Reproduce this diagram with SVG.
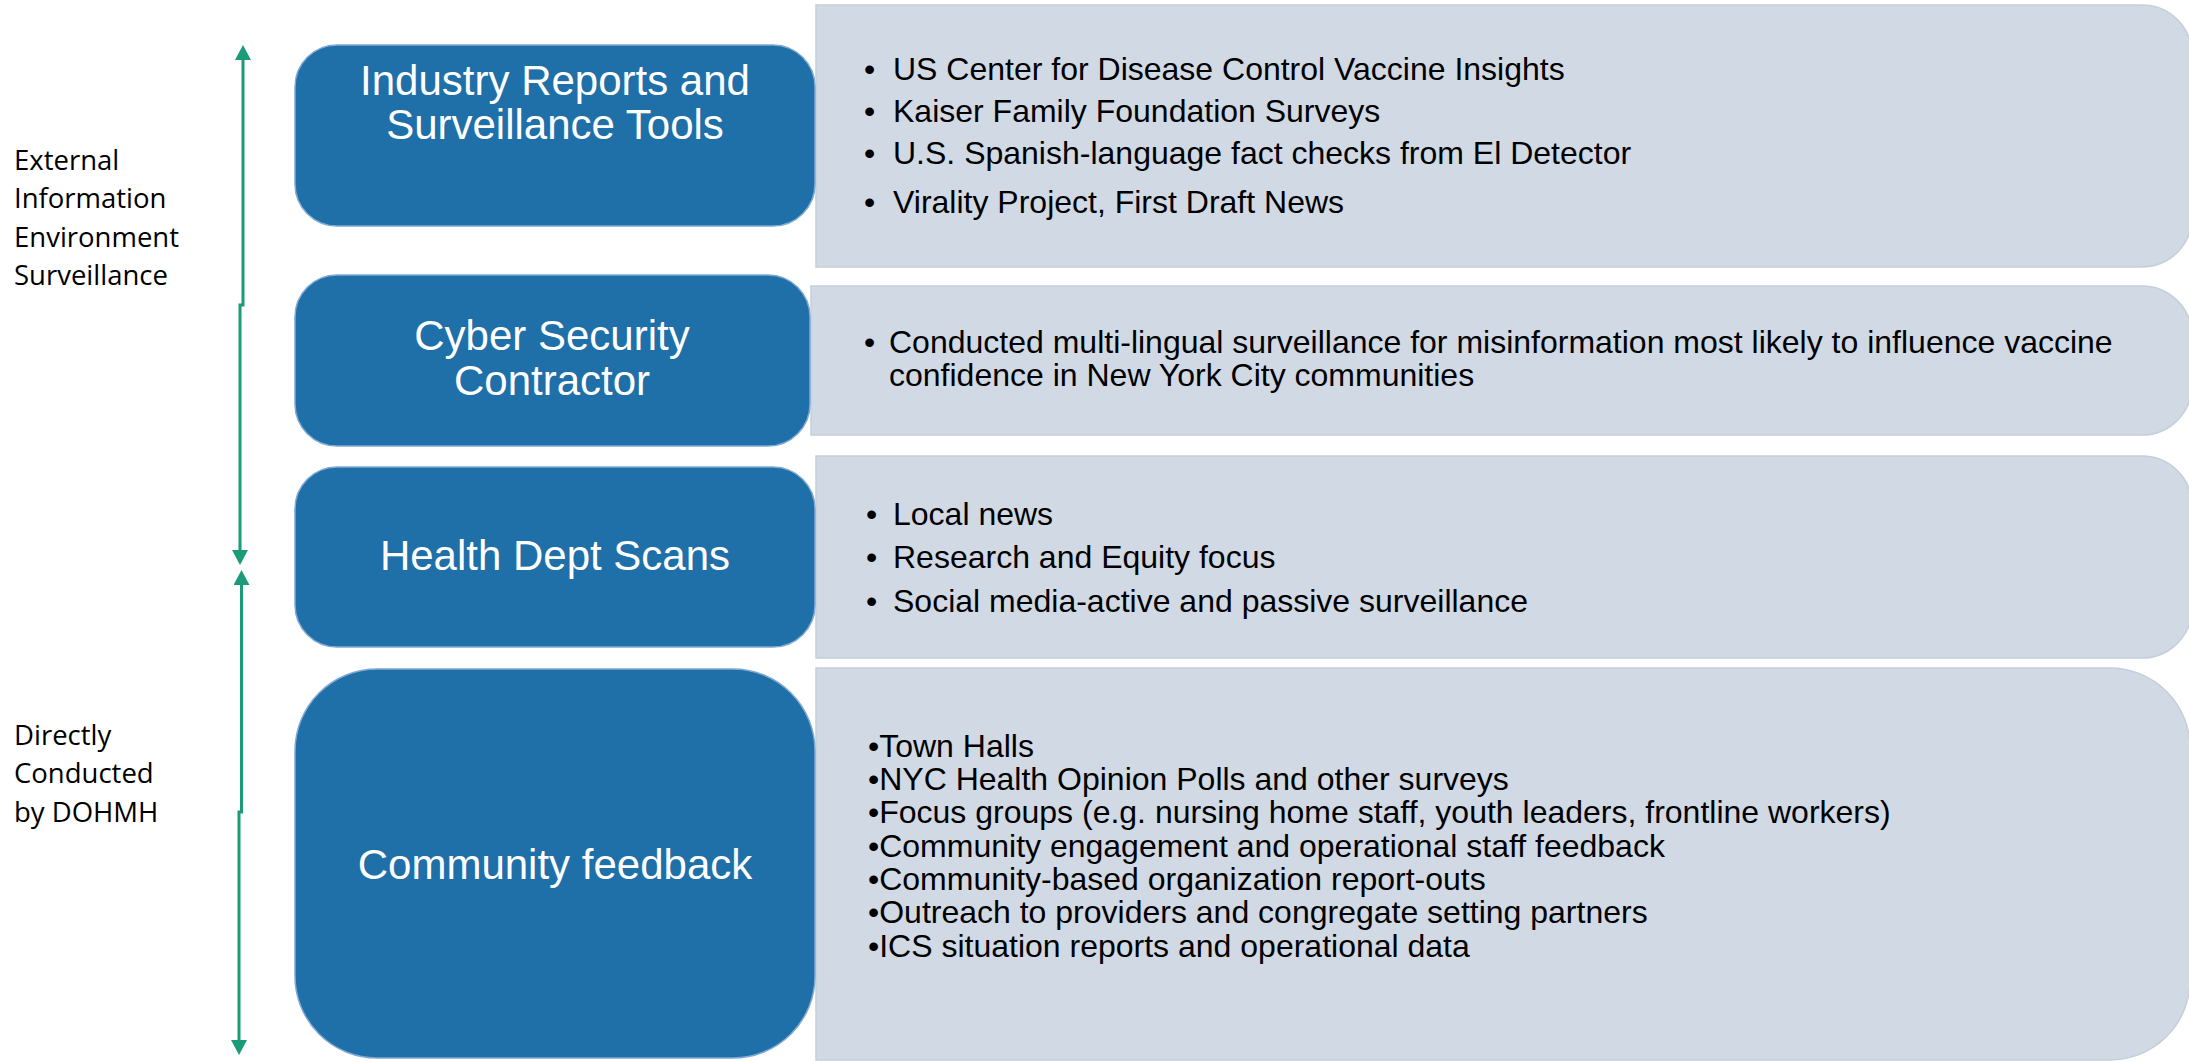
<svg xmlns="http://www.w3.org/2000/svg" width="2189" height="1061" viewBox="0 0 2189 1061">
<style>
.blue{fill:#1F6FA9;stroke:#7FA9D3;stroke-width:1.5}
.grey{fill:#D1D9E4;stroke:#C6CEDA;stroke-width:1.5}
.title{font-family:"Liberation Sans",Arial,sans-serif;font-size:42px;fill:#FFFFFF;text-anchor:middle}
.item{font-family:"Liberation Sans",Arial,sans-serif;font-size:32px;fill:#000000}
.side{font-family:"Open Sans","Noto Sans",sans-serif;font-size:27.5px;fill:#000000}
.conn{fill:none;stroke:#1B9B77;stroke-width:3}
</style>
<defs>
<marker id="ah" markerWidth="16" markerHeight="16" refX="0" refY="8" orient="auto-start-reverse" markerUnits="userSpaceOnUse">
<path d="M0,0 L15,8 L0,16 Z" fill="#1B9B77"/>
</marker>
</defs>
<rect width="2189" height="1061" fill="#FFFFFF"/>

<g id="labels">
<text class="side" x="14" y="170">External</text>
<text class="side" x="14" y="208">Information</text>
<text class="side" x="14" y="247">Environment</text>
<text class="side" x="14" y="285">Surveillance</text>
<text class="side" x="14" y="745">Directly</text>
<text class="side" x="14" y="783">Conducted</text>
<text class="side" x="14" y="822">by DOHMH</text>
</g>

<g id="connectors">
<path class="conn" d="M240,550 L240,305 L243,305 L243,60" marker-start="url(#ah)" marker-end="url(#ah)"/>
<path class="conn" d="M241.5,585 L241.5,812 L239,812 L239,1040" marker-start="url(#ah)" marker-end="url(#ah)"/>
</g>

<g id="detail-industry">
<path class="grey" d="M816,5 H2142 A50,50 0 0 1 2192,55 V217 A50,50 0 0 1 2142,267 H816 Z"/>
<text class="item" x="864" y="80" font-size="37">•</text>
<text class="item" x="893" y="80">US Center for Disease Control Vaccine Insights</text>
<text class="item" x="864" y="122" font-size="37">•</text>
<text class="item" x="893" y="122">Kaiser Family Foundation Surveys</text>
<text class="item" x="864" y="164" font-size="37">•</text>
<text class="item" x="893" y="164">U.S. Spanish-language fact checks from El Detector</text>
<text class="item" x="864" y="213" font-size="37">•</text>
<text class="item" x="893" y="213">Virality Project, First Draft News</text>
</g>

<g id="detail-cyber">
<path class="grey" d="M811,286 H2142 A50,50 0 0 1 2192,336 V385 A50,50 0 0 1 2142,435 H811 Z"/>
<text class="item" x="864" y="353">•</text>
<text class="item" x="889" y="353">Conducted multi-lingual surveillance for misinformation most likely to influence vaccine</text>
<text class="item" x="889" y="386">confidence in New York City communities</text>
</g>

<g id="detail-health">
<path class="grey" d="M816,456 H2142 A50,50 0 0 1 2192,506 V608 A50,50 0 0 1 2142,658 H816 Z"/>
<text class="item" x="866" y="525">•</text>
<text class="item" x="893" y="525">Local news</text>
<text class="item" x="866" y="568">•</text>
<text class="item" x="893" y="568">Research and Equity focus</text>
<text class="item" x="866" y="612">•</text>
<text class="item" x="893" y="612">Social media-active and passive surveillance</text>
</g>

<g id="detail-community">
<path class="grey" d="M816,668 H2110 A80,80 0 0 1 2190,748 V980 A80,80 0 0 1 2110,1060 H816 Z"/>
<text class="item" x="868" y="757">•Town Halls</text>
<text class="item" x="868" y="790">•NYC Health Opinion Polls and other surveys</text>
<text class="item" x="868" y="823">•Focus groups (e.g. nursing home staff, youth leaders, frontline workers)</text>
<text class="item" x="868" y="857">•Community engagement and operational staff feedback</text>
<text class="item" x="868" y="890">•Community-based organization report-outs</text>
<text class="item" x="868" y="923">•Outreach to providers and congregate setting partners</text>
<text class="item" x="868" y="957">•ICS situation reports and operational data</text>
</g>

<g id="node-industry">
<rect class="blue" x="295" y="45" width="520" height="181" rx="42" ry="42"/>
<text class="title" x="555" y="95">Industry Reports and</text>
<text class="title" x="555" y="139">Surveillance Tools</text>
</g>

<g id="node-cyber">
<rect class="blue" x="295" y="275" width="515" height="171" rx="42" ry="42"/>
<text class="title" x="552" y="350">Cyber Security</text>
<text class="title" x="552" y="395">Contractor</text>
</g>

<g id="node-health">
<rect class="blue" x="295" y="467" width="520" height="180" rx="42" ry="42"/>
<text class="title" x="555" y="570">Health Dept Scans</text>
</g>

<g id="node-community">
<rect class="blue" x="295" y="669" width="520" height="389" rx="82" ry="82"/>
<text class="title" x="555" y="879">Community feedback</text>
</g>
</svg>
